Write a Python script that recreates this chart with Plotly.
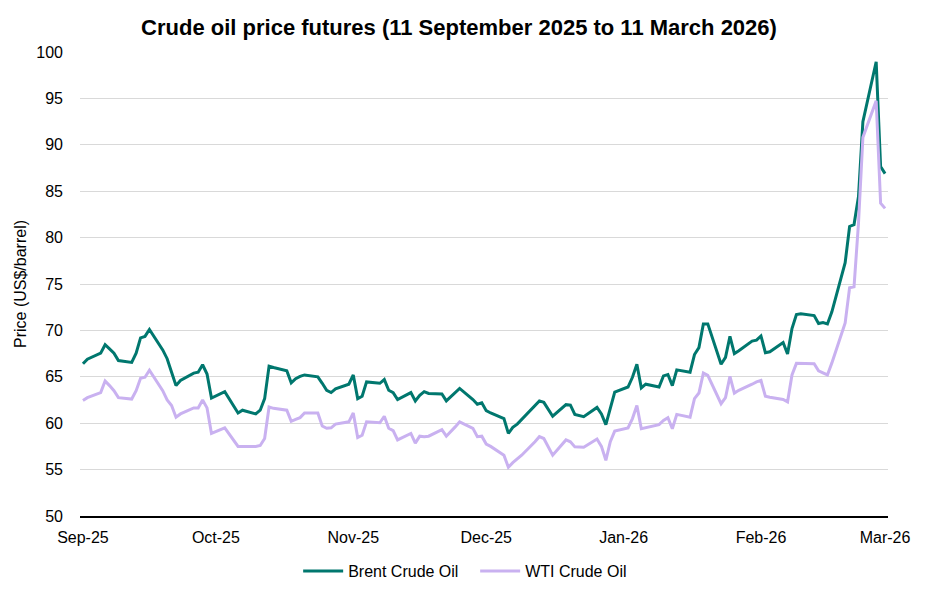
"""Crude oil price futures, Brent vs WTI, 11 Sep 2025 - 11 Mar 2026."""

import pandas as pd
import plotly.graph_objects as go

# trading days (weekdays, minus Christmas and New Year's Day)
HOLIDAYS = ["2025-12-25", "2026-01-01"]
START, END = "2025-09-11", "2026-03-11"

# US$/barrel, one value per trading day (one row per month)
brent = [
    66.4, 66.9, 67.55, 68.45, 68.0, 67.55, 66.75, 66.55, 67.55, 69.2, 69.35, 70.1, 67.9, 66.95,
    65.5, 64.05, 64.6, 65.4, 65.5, 66.3, 65.3, 62.7, 63.4, 62.6, 61.9, 61.1, 61.4, 61.0, 61.4,
    62.65, 66.15, 66.0, 65.65, 64.35, 64.8, 65.05, 65.2,
    65.0, 64.3, 63.55, 63.3, 63.7, 64.2, 65.2, 62.65, 62.9, 64.45, 64.3, 64.7, 63.55, 63.3,
    62.55, 63.3, 62.4, 63.0, 63.4, 63.2,
    63.15, 62.4, 62.85, 63.3, 63.75, 62.55, 62.05, 62.2, 61.35, 61.1, 60.5, 58.9, 59.55, 59.9,
    60.4, 61.95, 62.4, 62.25, 60.75, 62.0, 61.95, 60.95,
    60.7, 61.7, 61.0, 59.85, 61.6, 63.35, 63.9, 64.95, 66.35, 63.8, 64.2, 63.9, 65.1, 65.25,
    64.05, 65.75, 65.5, 67.4, 68.15, 70.7, 70.7,
    66.35, 67.1, 69.35, 67.5, 67.8, 68.85, 68.95, 69.4, 67.6, 67.7, 68.7, 67.45, 70.2, 71.7,
    71.8, 71.6, 70.75, 70.85, 70.7, 72.0,
    77.3, 81.2, 81.4, 84.4, 92.5, 98.95, 87.65, 86.9,
]
wti = [
    62.45, 62.75, 63.3, 64.55, 64.05, 63.5, 62.75, 62.6, 63.5, 64.85, 64.95, 65.7, 63.5, 62.5,
    61.9, 60.65, 61.0, 61.65, 61.65, 62.5, 61.65, 58.9, 59.5, 58.85, 58.1, 57.5, 57.5, 57.5,
    57.6, 58.35, 61.75, 61.6, 61.4, 60.2, 60.4, 60.6, 61.1,
    61.1, 59.7, 59.45, 59.5, 59.9, 60.15, 61.1, 58.45, 58.7, 60.15, 60.05, 60.75, 59.45, 59.2,
    58.2, 58.9, 57.85, 58.6, 58.55, 58.6,
    59.3, 58.6, 59.05, 59.6, 60.15, 59.45, 58.55, 58.6, 57.75, 57.5, 56.55, 55.25, 55.75, 56.1,
    56.55, 58.0, 58.55, 58.35, 56.55, 58.2, 58.0, 57.45,
    57.4, 58.3, 57.5, 56.0, 58.0, 59.15, 59.5, 60.5, 61.9, 59.4, 59.5, 59.85, 60.3, 60.6,
    59.4, 60.95, 60.65, 62.65, 63.25, 65.4, 65.15,
    62.1, 62.75, 65.05, 63.25, 63.55, 64.2, 64.45, 64.6, 62.9, 62.8, 62.55, 62.3, 65.2, 66.45,
    66.45, 66.4, 65.65, 65.45, 65.2, 66.5,
    70.8, 74.6, 74.7, 81.5, 90.8, 94.75, 83.7, 83.15,
]

tick_dates = ["2025-09-11", "2025-10-11", "2025-11-11", "2025-12-11",
              "2026-01-11", "2026-02-11", "2026-03-11"]
tick_labels = ["Sep-25", "Oct-25", "Nov-25", "Dec-25", "Jan-26", "Feb-26", "Mar-26"]
y_ticks = list(range(50, 101, 5))

BRENT_COLOR = "#00776E"
WTI_COLOR = "#C9B1F0"
FONT = "Liberation Sans, Arial, sans-serif"

# page body keeps its default 8px margin, so the figure is 16px smaller than the window
W, H = 938 - 16, 589 - 16

dates = pd.bdate_range(START, END, freq="C", holidays=HOLIDAYS)

fig = go.Figure()
fig.add_trace(go.Scatter(x=dates, y=brent, mode="lines", name="Brent Crude Oil",
                         line=dict(color=BRENT_COLOR, width=3)))
fig.add_trace(go.Scatter(x=dates, y=wti, mode="lines", name="WTI Crude Oil",
                         line=dict(color=WTI_COLOR, width=3)))

fig.update_layout(
    width=W,
    height=H,
    margin=dict(l=72, r=42, t=44, b=65),
    paper_bgcolor="white",
    plot_bgcolor="white",
    font=dict(family=FONT, size=16, color="#000000"),
    title=dict(
        text="<b>Crude oil price futures (11 September 2025 to 11 March 2026)</b>",
        x=451 / W, xref="container", xanchor="center",
        y=1 - 19 / H, yref="container", yanchor="middle",
        font=dict(size=22),
    ),
    legend=dict(
        orientation="h", x=0.27, xanchor="left",
        y=1 - 563 / H, yref="container", yanchor="middle",
        font=dict(size=16), itemwidth=40, entrywidth=122, entrywidthmode="pixels",
    ),
    xaxis=dict(
        type="date",
        range=["2025-09-10 08:00", "2026-03-11 16:00"],
        tickvals=tick_dates,
        ticktext=tick_labels,
        showgrid=False,
        showline=True, linecolor="#000000", linewidth=1.5,
        ticks="", ticklabelstandoff=6, automargin=False,
    ),
    yaxis=dict(
        range=[50, 100],
        tickvals=y_ticks,
        showgrid=True, gridcolor="#D9D9D9", gridwidth=1,
        zeroline=False, showline=False,
        ticks="", ticklabelstandoff=16, automargin=False,
        title=dict(text="Price (US$/barrel)", font=dict(size=16), standoff=5),
    ),
)

fig.write_html("out.html")
